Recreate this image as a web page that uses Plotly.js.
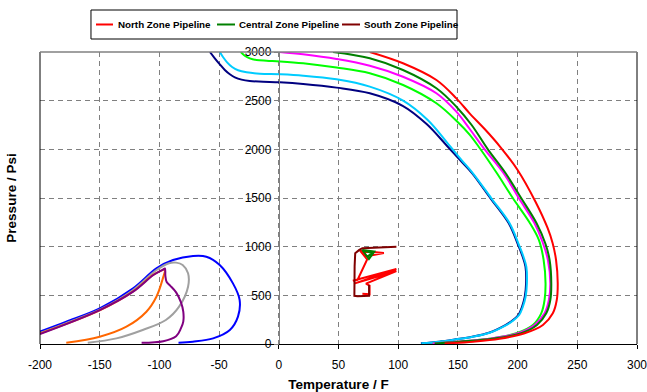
<!DOCTYPE html>
<html>
<head>
<meta charset="utf-8">
<script src="https://cdn.plot.ly/plotly-3.0.1.min.js"></script>
<style>html,body{margin:0;padding:0;background:#fff;}#chart{width:647px;height:392px;}</style>
</head>
<body>
<div id="chart"></div>
<script>
// ---- Data (Temperature F, Pressure psi) ----
var navyT = [-57.7, -53.6, -49.4, -45.2, -41, -36.8, -31.2, -24.3, -13.1, 0.8, 20.4, 48.3, 76.2, 104.1, 123.8, 140.2, 152.6, 162, 177.3, 192.6, 201, 204.3, 206.6, 207.1, 206, 203.7, 200.6, 195.1, 189.8, 176, 162, 148.2, 134.3, 119];
var navyP = [3000, 2935, 2873, 2815, 2771, 2740, 2716, 2702, 2695, 2688, 2671, 2634, 2576, 2445, 2260, 2045, 1880, 1754, 1497, 1240, 1000, 894, 794, 624, 486, 383, 298, 236, 195, 116, 75, 48, 24, 8];

var cyanT = [-49.4, -46.6, -43.3, -39.1, -34.1, -27, -15.9, 0.8, 20.4, 48.3, 76.2, 104.1, 124.7, 140.6, 153.1, 162.6, 178, 193.3, 201.7, 205, 207.3, 207.8, 206.7, 204.4, 201.3, 195.8, 190.5, 176.6, 162.6, 148.7, 134.7, 119.4];
var cyanP = [3000, 2946, 2894, 2846, 2812, 2791, 2777, 2771, 2757, 2719, 2644, 2500, 2301, 2075, 1890, 1754, 1497, 1240, 1000, 894, 794, 624, 486, 383, 298, 236, 195, 116, 75, 48, 24, 8];

var limeT = [-31.8, -28.5, -24.3, -18.7, -10.3, 0.8, 20.4, 48.3, 76.2, 104.1, 132, 149.8, 159.8, 168.2, 182.7, 196.1, 210, 217.8, 221.8, 223.4, 222.6, 219.8, 212.8, 198.9, 176.6, 148.7, 128.9];
var limeP = [3000, 2962, 2935, 2918, 2910, 2903, 2884, 2840, 2781, 2661, 2473, 2281, 2152, 2014, 1754, 1497, 1248, 1069, 863, 624, 452, 315, 195, 110, 54, 24, 5];

var magentaT = [0.8, 20.3, 48.3, 76.2, 104, 132, 148.7, 159.6, 172.4, 188.3, 201.1, 214.2, 220.9, 225.4, 227.4, 226.2, 222.6, 214.2, 200.3, 176.6, 148.7, 128.9];
var magentaP = [3000, 2976, 2928, 2859, 2746, 2576, 2387, 2214, 2000, 1754, 1497, 1240, 1048, 863, 624, 452, 315, 195, 110, 54, 24, 5];

var dgreenT = [45.4, 76.2, 104, 132, 148.7, 161.5, 175.1, 190, 203.1, 215.9, 223.4, 226.8, 228.2, 227.4, 224, 216.2, 203.1, 179.3, 151.5, 130.5];
var dgreenP = [3000, 2935, 2815, 2627, 2438, 2250, 2000, 1754, 1497, 1240, 1027, 863, 624, 452, 315, 195, 110, 54, 24, 5];

var redT = [76.2, 104, 132, 148.7, 159.8, 172.4, 184.9, 200, 215.1, 225.1, 229.3, 232.2, 233.6, 232.8, 229.5, 221.2, 205.9, 184.9, 162.6, 138.9];
var redP = [3000, 2884, 2712, 2524, 2370, 2209, 2034, 1788, 1459, 1192, 1038, 863, 627, 452, 315, 195, 110, 54, 24, 5];

var blueT = [-200, -178, -150, -122, -102.5, -88.6, -71.8, -60.7, -49.5, -38.4, -32.8, -34.2, -41, -55, -72, -84];
var blueP = [127, 229, 366, 572, 777, 863, 904, 897, 812, 623, 452, 281, 144, 58, 24, 14];

var grayT = [-200, -178, -150, -122, -103, -92, -86, -80.5, -76, -76, -83.5, -94.6, -114, -136, -160];
var grayP = [113, 215, 352, 555, 755, 830, 836, 812, 726, 589, 384, 247, 144, 58, 14];

var orangeT = [-200, -150, -122, -105, -97, -95.4, -97.5, -102.5, -110.9, -127.6, -150, -178];
var orangeP = [108, 345, 540, 712, 762, 768, 658, 486, 332, 178, 75, 14];

var purpleT = [-200, -150, -122, -105, -97, -95.4, -95, -94, -91, -86, -82, -80, -80, -82, -86, -96.8, -114.9];
var purpleP = [103, 349, 538, 709, 765, 776, 700, 640, 600, 530, 430, 332, 230, 160, 80, 28, 12];

var northT = [68, 88, 73, 68, 74, 66, 62, 98.5, 68, 63, 98.5, 73, 76, 76, 70];
var northP = [958, 935, 900, 960, 870, 660, 650, 770, 640, 620, 750, 620, 600, 510, 515];

var centralT = [70, 80, 75.5, 70, 78, 74];
var centralP = [967, 950, 872, 967, 935, 895];

var southT = [98.5, 70, 67.4, 64, 63.5, 63.3, 66, 75.6, 75.6];
var southP = [1000, 985, 967, 933, 800, 495, 490, 495, 606];

var xTicks = [-200, -150, -100, -50, 0, 50, 100, 150, 200, 250, 300];
var yTicks = [0, 500, 1000, 1500, 2000, 2500, 3000];

var legendNames = ['North Zone Pipeline', 'Central Zone Pipeline', 'South Zone Pipeline'];
var legendColors = ['#FF0000', '#008000', '#800000'];

function env(t, p, color, name) {
  return {x: t, y: p, type: 'scatter', mode: 'lines', name: name, showlegend: false,
          line: {color: color, width: 2, shape: 'spline', smoothing: 1}, hoverinfo: 'skip'};
}
function wig(t, p, color, name, yax) {
  return {x: t, y: p, type: 'scatter', mode: 'lines', name: name, showlegend: false, yaxis: yax || 'y',
          line: {color: color, width: 2}, hoverinfo: 'skip'};
}

var traces = [
  env(navyT, navyP, '#000080', 'Envelope 1'),
  env(cyanT, cyanP, '#00CCFF', 'Envelope 2'),
  env(limeT, limeP, '#00FF00', 'Envelope 3'),
  env(magentaT, magentaP, '#FF00FF', 'Envelope 4'),
  env(dgreenT, dgreenP, '#008000', 'Envelope 5'),
  env(redT, redP, '#FF0000', 'Envelope 6'),
  env(blueT, blueP, '#0000FF', 'Envelope 7'),
  env(grayT, grayP, '#A0A0A0', 'Envelope 8'),
  env(orangeT, orangeP, '#FF6600', 'Envelope 9'),
  env(purpleT, purpleP, '#800080', 'Envelope 10'),
  wig(northT, northP, legendColors[0], legendNames[0]),
  wig(centralT, centralP, legendColors[1], legendNames[1]),
  wig(southT, southP, legendColors[2], legendNames[2], 'y2')
];

var font = 'Liberation Sans, Arial, Helvetica, sans-serif';

// custom legend box (paper coordinates)
var legY = 1.0942;
var legLineX = [[0.0938, 0.1223], [0.2965, 0.3266], [0.5059, 0.536]];
var legTextX = [0.1273, 0.330, 0.5394];
var shapes = [
  {type: 'rect', xref: 'paper', yref: 'paper', x0: 0.0854, x1: 0.6985, y0: 1.0445, y1: 1.1438,
   line: {color: '#000', width: 1}, fillcolor: '#fff', layer: 'above'},
  {type: 'line', xref: 'paper', yref: 'paper', x0: 0, x1: 0, y0: 0, y1: 1, line: {color: '#000', width: 1}, layer: 'above'},
  {type: 'line', xref: 'paper', yref: 'paper', x0: 1, x1: 1, y0: 0, y1: 1, line: {color: '#000', width: 1}, layer: 'above'},
  {type: 'line', xref: 'paper', yref: 'paper', x0: 0, x1: 1, y0: 1, y1: 1, line: {color: '#808080', width: 1.5}, layer: 'above'}
];
var annotations = [];
for (var i = 0; i < legendNames.length; i++) {
  shapes.push({type: 'line', xref: 'paper', yref: 'paper', x0: legLineX[i][0], x1: legLineX[i][1],
               y0: legY, y1: legY, line: {color: legendColors[i], width: 2}, layer: 'above'});
  annotations.push({xref: 'paper', yref: 'paper', x: legTextX[i], y: legY, xanchor: 'left', yanchor: 'middle',
                    text: legendNames[i], showarrow: false,
                    font: {family: font, size: 9.8, weight: 'bold', color: '#000'}});
}

var layout = {
  width: 647, height: 392,
  margin: {l: 40, r: 10, t: 52, b: 48},
  paper_bgcolor: '#fff', plot_bgcolor: '#fff',
  font: {family: font, size: 12, color: '#000'},
  showlegend: false,
  xaxis: {range: [-200, 300], tickvals: xTicks, ticktext: xTicks.map(String),
          showgrid: true, gridcolor: '#808080', gridwidth: 1, griddash: '5px,4px',
          zeroline: false, showline: true, linecolor: '#000', linewidth: 1,
          ticks: 'outside', ticklen: 4, tickcolor: '#000', tickfont: {size: 12},
          ticklabelstandoff: 6, ticklabeloverflow: 'allow',
          title: {text: 'Temperature / F', font: {size: 13.5, weight: 'bold'}, standoff: 12},
          fixedrange: true},
  yaxis: {range: [0, 3000], tickvals: yTicks, showgrid: true, gridcolor: '#808080', gridwidth: 1,
          griddash: '5px,4px', zeroline: false, showline: false, showticklabels: false, ticks: '',
          title: {text: 'Pressure / Psi', font: {size: 13.5, weight: 'bold'}, standoff: 19},
          fixedrange: true},
  yaxis2: {range: [0, 3000], tickvals: yTicks, ticktext: yTicks.map(String), overlaying: 'y',
           anchor: 'free', position: 0.4, side: 'left', showgrid: false, zeroline: false,
           showline: true, linecolor: '#808080', linewidth: 1.5,
           ticks: 'outside', ticklen: 5, tickcolor: '#808080', tickfont: {size: 12},
           fixedrange: true},
  shapes: shapes,
  annotations: annotations
};

Plotly.newPlot('chart', traces, layout, {staticPlot: true, displayModeBar: false});
</script>
</body>
</html>
